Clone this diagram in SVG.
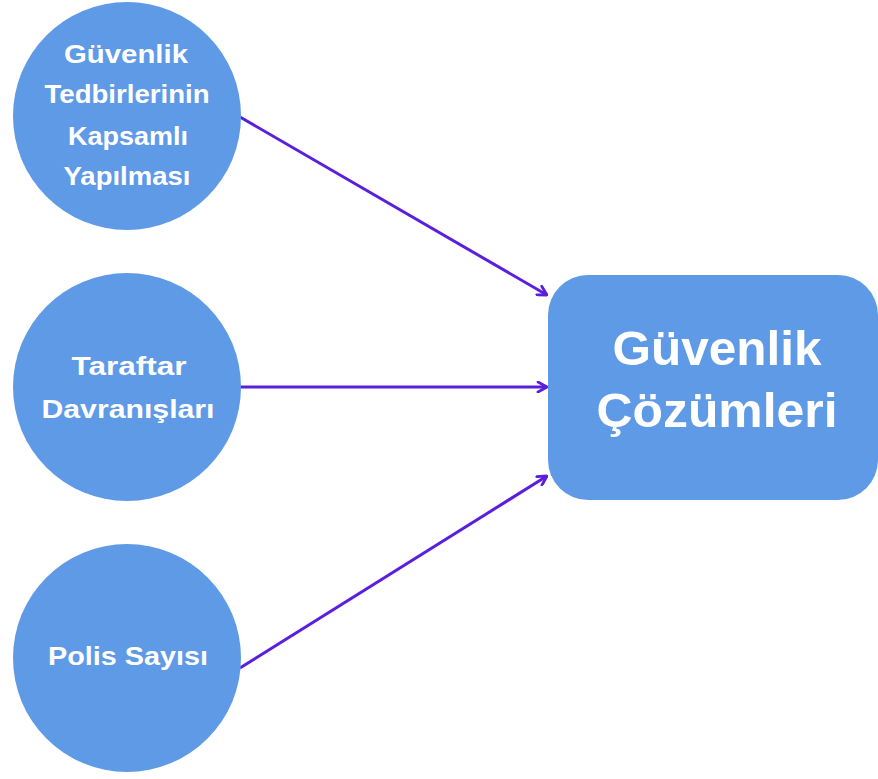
<svg xmlns="http://www.w3.org/2000/svg" width="878" height="779" viewBox="0 0 878 779">
<style>
.node{fill:#5f9ae7}
.t{fill:#ffffff;font-family:"Liberation Sans",Arial,sans-serif;font-weight:bold;text-anchor:middle}
.s{font-size:25px}
.b{font-size:48px}
.c{stroke:#5a1fdc;stroke-width:3;fill:none}
</style>
<defs>
<marker id="ah" viewBox="0 0 12 12" refX="11" refY="6" markerWidth="12" markerHeight="12" markerUnits="userSpaceOnUse" orient="auto">
<path d="M2,1 L11,6 L2,11" fill="none" stroke="#5a1fdc" stroke-width="2.8" stroke-linecap="round" stroke-linejoin="round"/>
</marker>
</defs>
<rect width="878" height="779" fill="#ffffff"/>
<g id="connectors">
<line class="c" x1="240" y1="117" x2="547" y2="295" marker-end="url(#ah)"/>
<line class="c" x1="240" y1="387" x2="547" y2="387" marker-end="url(#ah)"/>
<line class="c" x1="240" y1="668" x2="547" y2="476" marker-end="url(#ah)"/>
</g>
<g id="n1">
<circle class="node" cx="127" cy="116" r="114"/>
<text class="t s" x="126" y="63" textLength="124" lengthAdjust="spacingAndGlyphs">Güvenlik</text>
<text class="t s" x="127" y="103" textLength="165" lengthAdjust="spacingAndGlyphs">Tedbirlerinin</text>
<text class="t s" x="128" y="145" textLength="120" lengthAdjust="spacingAndGlyphs">Kapsamlı</text>
<text class="t s" x="127" y="185" textLength="127" lengthAdjust="spacingAndGlyphs">Yapılması</text>
</g>
<g id="n2">
<circle class="node" cx="127" cy="387" r="114"/>
<text class="t s" x="129" y="375" textLength="115" lengthAdjust="spacingAndGlyphs">Taraftar</text>
<text class="t s" x="128" y="418" textLength="173" lengthAdjust="spacingAndGlyphs">Davranışları</text>
</g>
<g id="n3">
<circle class="node" cx="127" cy="658" r="114"/>
<text class="t s" x="128" y="665" textLength="160" lengthAdjust="spacingAndGlyphs">Polis Sayısı</text>
</g>
<g id="n4">
<rect class="node" x="548" y="275" width="330" height="225" rx="40" ry="40"/>
<text class="t b" x="717" y="365" textLength="209" lengthAdjust="spacingAndGlyphs">Güvenlik</text>
<text class="t b" x="717" y="427" textLength="241" lengthAdjust="spacingAndGlyphs">Çözümleri</text>
</g>
</svg>
